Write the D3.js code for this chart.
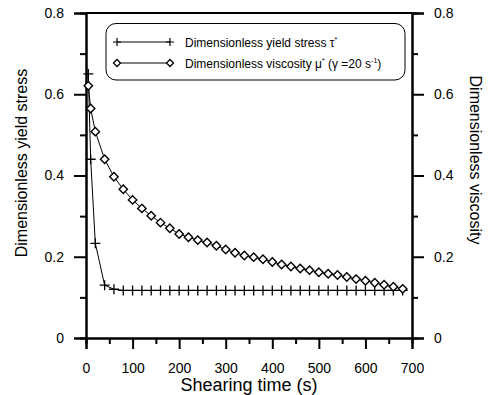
<!DOCTYPE html>
<html>
<head>
<meta charset="utf-8">
<script src="https://cdn.jsdelivr.net/npm/d3@7"></script>
<style>
  body { margin: 0; background: #fff; }
  text { font-family: "Liberation Sans", Arial, sans-serif; fill: #000; }
</style>
</head>
<body>
<div id="chart"></div>
<script>
// shearing time (s)
var stressTime = [5, 10, 20, 40, 60, 80, 100, 120, 140, 160, 180, 200, 220, 240, 260, 280, 300, 320, 340,
  360, 380, 400, 420, 440, 460, 480, 500, 520, 540, 560, 580, 600, 620, 640, 660, 680];
var stressVal = [0.65, 0.44, 0.233, 0.13, 0.12, 0.117, 0.117, 0.117, 0.117, 0.117, 0.117, 0.117, 0.117, 0.117,
  0.117, 0.117, 0.117, 0.117, 0.117, 0.117, 0.117, 0.117, 0.117, 0.117, 0.117, 0.117, 0.117, 0.117, 0.117,
  0.117, 0.117, 0.117, 0.117, 0.117, 0.117, 0.117];
var viscTime = stressTime;
var viscVal = [0.621, 0.565, 0.508, 0.44, 0.397, 0.366, 0.34, 0.319, 0.301, 0.284, 0.27, 0.256, 0.248, 0.241,
  0.235, 0.227, 0.218, 0.21, 0.203, 0.199, 0.194, 0.187, 0.181, 0.176, 0.171, 0.167, 0.162, 0.158, 0.155,
  0.15, 0.145, 0.141, 0.136, 0.131, 0.126, 0.121];
var xTicks = [0, 100, 200, 300, 400, 500, 600, 700];
var xMinor = [50, 150, 250, 350, 450, 550, 650];
var yTicks = [0, 0.2, 0.4, 0.6, 0.8];
var yMinor = [0.1, 0.3, 0.5, 0.7];

var width = 492, height = 395;
var margin = { top: 13, left: 86, right: 80, bottom: 57 };

var svg = d3.select("#chart").append("svg")
  .attr("width", width)
  .attr("height", height);

var x = d3.scaleLinear().domain([0, 700]).range([margin.left, width - margin.right]);
var y = d3.scaleLinear().domain([0, 0.8]).range([height - margin.bottom, margin.top]);

function styleAxis(g) {
  g.select(".domain").attr("stroke", "#000").attr("stroke-width", 2);
  g.selectAll(".tick line").attr("stroke", "#000").attr("stroke-width", 2);
  g.selectAll(".tick text").attr("font-size", 14).attr("font-family", "Liberation Sans, Arial, sans-serif");
}
var yFmt = d => d === 0 ? "0" : d3.format(".1f")(d);

// minor ticks first
svg.append("g")
  .attr("transform", "translate(0," + y(0) + ")")
  .call(d3.axisBottom(x).tickValues(xMinor).tickSize(6).tickFormat(""))
  .call(styleAxis);
svg.append("g")
  .attr("transform", "translate(" + x(0) + ",0)")
  .call(d3.axisLeft(y).tickValues(yMinor).tickSize(6).tickFormat(""))
  .call(styleAxis);
svg.append("g")
  .attr("transform", "translate(" + x(700) + ",0)")
  .call(d3.axisRight(y).tickValues(yMinor).tickSize(6).tickFormat(""))
  .call(styleAxis);

// major ticks
svg.append("g")
  .attr("transform", "translate(0," + y(0) + ")")
  .call(d3.axisBottom(x).tickValues(xTicks).tickSize(11).tickPadding(14).tickFormat(d3.format("d")))
  .call(styleAxis);
svg.append("g")
  .attr("transform", "translate(" + x(0) + ",0)")
  .call(d3.axisLeft(y).tickValues(yTicks).tickSize(12).tickPadding(10).tickFormat(yFmt))
  .call(styleAxis);
svg.append("g")
  .attr("transform", "translate(" + x(700) + ",0)")
  .call(d3.axisRight(y).tickValues(yTicks).tickSize(12).tickPadding(10).tickFormat(yFmt))
  .call(styleAxis);

// top border
svg.append("line")
  .attr("x1", x(0)).attr("x2", x(700))
  .attr("y1", y(0.8)).attr("y2", y(0.8))
  .attr("stroke", "#000").attr("stroke-width", 2);

// axis titles
svg.append("text")
  .attr("transform", "translate(27,163) rotate(-90)")
  .attr("text-anchor", "middle")
  .attr("font-size", 16)
  .text("Dimensionless yield stress");
svg.append("text")
  .attr("transform", "translate(470,160) rotate(90)")
  .attr("text-anchor", "middle")
  .attr("font-size", 16)
  .text("Dimensionless viscosity");
svg.append("text")
  .attr("x", x(350))
  .attr("y", 391)
  .attr("text-anchor", "middle")
  .attr("font-size", 18)
  .text("Shearing time (s)");

var line = d3.line().x(d => x(d[0])).y(d => y(d[1]));

var stress = stressTime.map((t, i) => [t, stressVal[i]]);
var visc = viscTime.map((t, i) => [t, viscVal[i]]);

svg.append("path").datum(stress).attr("d", line)
  .attr("fill", "none").attr("stroke", "#000").attr("stroke-width", 1);
svg.append("path").datum(visc).attr("d", line)
  .attr("fill", "none").attr("stroke", "#000").attr("stroke-width", 1);

function plus(s) { return "M" + (-s) + ",0H" + s + "M0," + (-s) + "V" + s; }
function diamond(s) { return "M0," + (-s) + "L" + s + ",0L0," + s + "L" + (-s) + ",0Z"; }

svg.append("g").selectAll("path")
  .data(stress).enter().append("path")
  .attr("transform", d => "translate(" + x(d[0]) + "," + y(d[1]) + ")")
  .attr("d", plus(5))
  .attr("stroke", "#000").attr("stroke-width", 1.3).attr("fill", "none");

svg.append("g").selectAll("path")
  .data(visc).enter().append("path")
  .attr("transform", d => "translate(" + x(d[0]) + "," + y(d[1]) + ")")
  .attr("d", diamond(4.2))
  .attr("stroke", "#000").attr("stroke-width", 1.4).attr("fill", "#fff");

// legend
var lg = svg.append("g");
lg.append("rect")
  .attr("x", 106).attr("y", 23.5)
  .attr("width", 299).attr("height", 56.5)
  .attr("rx", 10).attr("ry", 10)
  .attr("fill", "#fff").attr("stroke", "#000").attr("stroke-width", 1);

lg.append("line").attr("x1", 117).attr("x2", 170).attr("y1", 42).attr("y2", 42)
  .attr("stroke", "#000").attr("stroke-width", 1);
lg.selectAll("path.lp").data([117, 170]).enter().append("path")
  .attr("transform", d => "translate(" + d + ",42)")
  .attr("d", plus(4)).attr("stroke", "#000").attr("stroke-width", 1.2);
lg.append("line").attr("x1", 117).attr("x2", 170).attr("y1", 63).attr("y2", 63)
  .attr("stroke", "#000").attr("stroke-width", 1);
lg.selectAll("path.ld").data([117, 170]).enter().append("path")
  .attr("transform", d => "translate(" + d + ",63)")
  .attr("d", diamond(3.5)).attr("stroke", "#000").attr("stroke-width", 1.3).attr("fill", "#fff");

var t1 = lg.append("text").attr("x", 185).attr("y", 46.5).attr("font-size", 12);
t1.append("tspan").text("Dimensionless yield stress τ");
t1.append("tspan").attr("font-size", 7).attr("dy", -5).text("*");

var t2 = lg.append("text").attr("x", 185).attr("y", 67.5).attr("font-size", 12);
t2.append("tspan").text("Dimensionless viscosity μ");
t2.append("tspan").attr("font-size", 7).attr("dy", -5).text("*");
t2.append("tspan").attr("dy", 5).text(" (γ =20 s");
t2.append("tspan").attr("font-size", 7).attr("dy", -5).text("-1");
t2.append("tspan").attr("dy", 5).text(")");
</script>
</body>
</html>
